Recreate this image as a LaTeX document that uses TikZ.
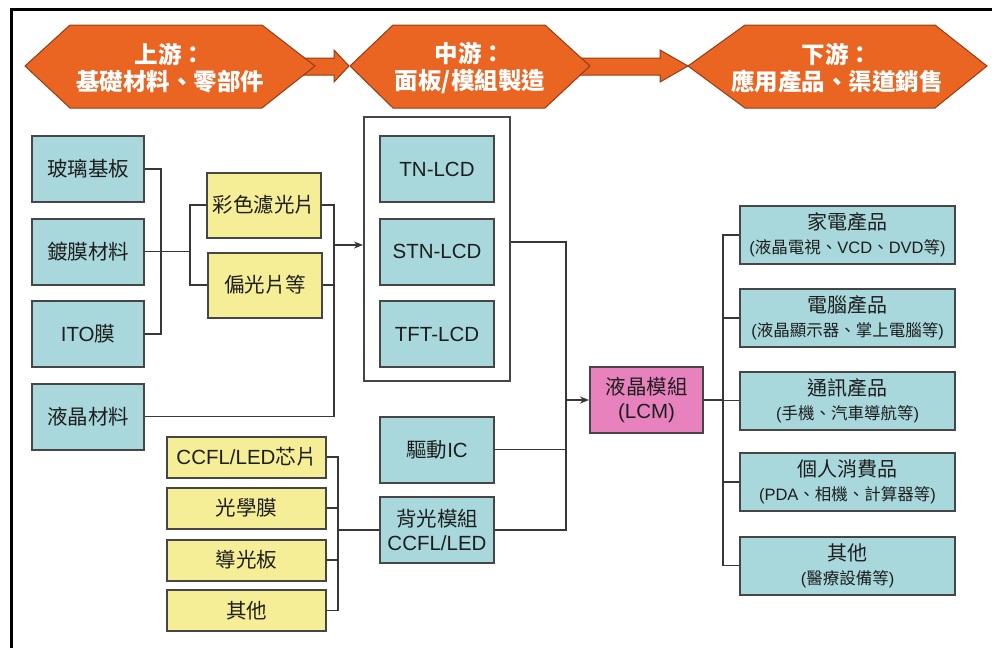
\documentclass[tikz,border=0pt]{standalone}
\usepackage{fontspec}
\setmainfont{Liberation Sans}
\newfontfamily\cjk{Noto Sans CJK TC}
\usetikzlibrary{arrows.meta}
\definecolor{hexorange}{RGB}{234,100,34}
\definecolor{hexedge}{RGB}{150,60,20}
\definecolor{bluefill}{RGB}{168,216,220}
\definecolor{yelfill}{RGB}{245,238,150}
\definecolor{pinkfill}{RGB}{232,130,190}
\definecolor{edgegray}{RGB}{70,70,70}
\definecolor{linegray}{RGB}{55,55,55}
\definecolor{txt}{RGB}{30,30,30}
\begin{document}
\begin{tikzpicture}[x=1pt,y=-1pt,
  boxbase/.style={draw=edgegray, line width=2pt, inner sep=0pt, align=center, text=txt},
  bigfont/.style={font=\fontsize{20.5}{24}\selectfont},
  bluebox/.style={boxbase, fill=bluefill},
  yelbox/.style={boxbase, fill=yelfill},
  leftbox/.style={bluebox, bigfont, minimum width=112pt, minimum height=66pt},
  midbox/.style={bluebox, bigfont, minimum width=114pt, minimum height=66pt},
  yelA/.style={yelbox, bigfont, minimum width=114pt, minimum height=65pt},
  yelB/.style={yelbox, bigfont, minimum width=159pt, minimum height=41pt},
  rightbox/.style={bluebox, font=\fontsize{16.5}{24}\selectfont, minimum width=215pt, minimum height=58pt},
  hexshape/.style={fill=hexorange, draw=hexedge, line width=1pt},
  hexlabel/.style={text=white, align=center, font=\fontsize{23.5}{27}\selectfont\bfseries\cjk},
  conn/.style={draw=linegray, line width=1.6pt},
  arr/.style={conn, -{Stealth[length=9pt,width=7pt]}}
]
\useasboundingbox (0,0) rectangle (992,648);
\fill[white] (0,0) rectangle (992,648);
% outer frame
\draw[line width=3pt, black] (11,648) -- (11,9) -- (992,9);

% top block arrows
\filldraw[hexshape] (300,58) -- (334,58) -- (334,50) -- (349,66) -- (334,82) -- (334,75) -- (300,75) -- cycle;
\filldraw[hexshape] (580,58) -- (660,58) -- (660,50) -- (688,66) -- (660,82) -- (660,75) -- (580,75) -- cycle;
% hexagons
\filldraw[hexshape] (25,66) -- (70,25) -- (262,25) -- (315,66) -- (262,108) -- (70,108) -- cycle;
\filldraw[hexshape] (350,66) -- (393,25) -- (545,25) -- (590,66) -- (545,108) -- (393,108) -- cycle;
\filldraw[hexshape] (688,66) -- (745,25) -- (935,25) -- (987,66) -- (935,108) -- (745,108) -- cycle;
\node[hexlabel] (h1) at (170,68) {上游：\\基礎材料、零部件};
\node[hexlabel] (h2) at (470,68) {中游：\\面板/模組製造};
\node[hexlabel] (h3) at (837,68) {下游：\\應用產品、渠道銷售};

% left column
\node[leftbox] (b1) at (88,169) {\cjk 玻璃基板};
\node[leftbox] (b2) at (88,251.5) {\cjk 鍍膜材料};
\node[leftbox] (b3) at (88,334) {ITO{\cjk 膜}};
\node[leftbox] (b4) at (88,416.5) {\cjk 液晶材料};

\node[yelA] (y1) at (264,205) {\cjk 彩色濾光片};
\node[yelA] (y2) at (265,285) {\cjk 偏光片等};

% middle frame
\node[draw=edgegray, line width=2pt, fill=white, minimum width=146pt, minimum height=264pt, inner sep=0pt] (frame) at (437,249) {};
\node[midbox] (tn) at (437,169) {TN-LCD};
\node[midbox] (stn) at (437,251.5) {STN-LCD};
\node[midbox] (tft) at (437,334) {TFT-LCD};

\node[midbox] (ic) at (437,449.5) {{\cjk 驅動}IC};
\node[midbox] (bk) at (437,530) {{\cjk 背光模組}\\CCFL/LED};

\node[yelB] (z1) at (246.5,457) {CCFL/LED{\cjk 芯片}};
\node[yelB] (z2) at (246.5,508) {\cjk 光學膜};
\node[yelB] (z3) at (246.5,560) {\cjk 導光板};
\node[yelB] (z4) at (246.5,610.5) {\cjk 其他};

\node[boxbase, fill=pinkfill, bigfont, minimum width=113pt, minimum height=66pt] (lcm) at (646.5,400) {{\cjk 液晶模組}\\(LCM)};

% right column
\node[rightbox] (r1) at (847.5,235) {{\fontsize{20}{22}\selectfont\cjk 家電產品}\\({\cjk 液晶電視、}VCD{\cjk 、}DVD{\cjk 等})};
\node[rightbox] (r2) at (847.5,318) {{\fontsize{20}{22}\selectfont\cjk 電腦產品}\\({\cjk 液晶顯示器、掌上電腦等})};
\node[rightbox] (r3) at (847.5,400.5) {{\fontsize{20}{22}\selectfont\cjk 通訊產品}\\({\cjk 手機、汽車導航等})};
\node[rightbox] (r4) at (847.5,482) {{\fontsize{20}{22}\selectfont\cjk 個人消費品}\\(PDA{\cjk 、相機、計算器等})};
\node[rightbox] (r5) at (847.5,565.5) {{\fontsize{20}{22}\selectfont\cjk 其他}\\({\cjk 醫療設備等})};

% junction coordinates
\coordinate (j1) at (161,251.5);
\coordinate (j2) at (190,251.5);
\coordinate (j3) at (334,245);
\coordinate (j4) at (566,242);
\coordinate (j5) at (723,400);
\coordinate (j6) at (338,530);

% connectors left
\draw[conn] (b1.east) -| (j1) |- (b3.east);
\draw[conn] (b2.east) -- (j2);
\draw[conn] (y1.west) -| (j2) |- (y2.west);
\draw[conn] (y1.east) -| (j3) |- (b4.east);
\draw[conn] (y2.east) -- (y2.east -| j3);
\draw[arr] (j3) -- (frame.west |- j3);

% connectors middle
\draw[conn] (frame.east |- j4) -- (j4) |- (bk.east);
\draw[conn] (ic.east) -- (ic.east -| j4);
\draw[arr] (j4 |- lcm.west) -- (lcm.west);

% bottom yellow
\draw[conn] (z1.east) -| (j6) |- (z4.east);
\draw[conn] (z2.east) -- (z2.east -| j6);
\draw[conn] (z3.east) -- (z3.east -| j6);
\draw[conn] (j6) -- (bk.west);

% right connectors
\draw[conn] (lcm.east) -- (j5);
\draw[conn] (r1.west) -| (j5) |- (r5.west);
\draw[conn] (r2.west) -- (r2.west -| j5);
\draw[conn] (r3.west) -- (r3.west -| j5);
\draw[conn] (r4.west) -- (r4.west -| j5);
\end{tikzpicture}
\end{document}
